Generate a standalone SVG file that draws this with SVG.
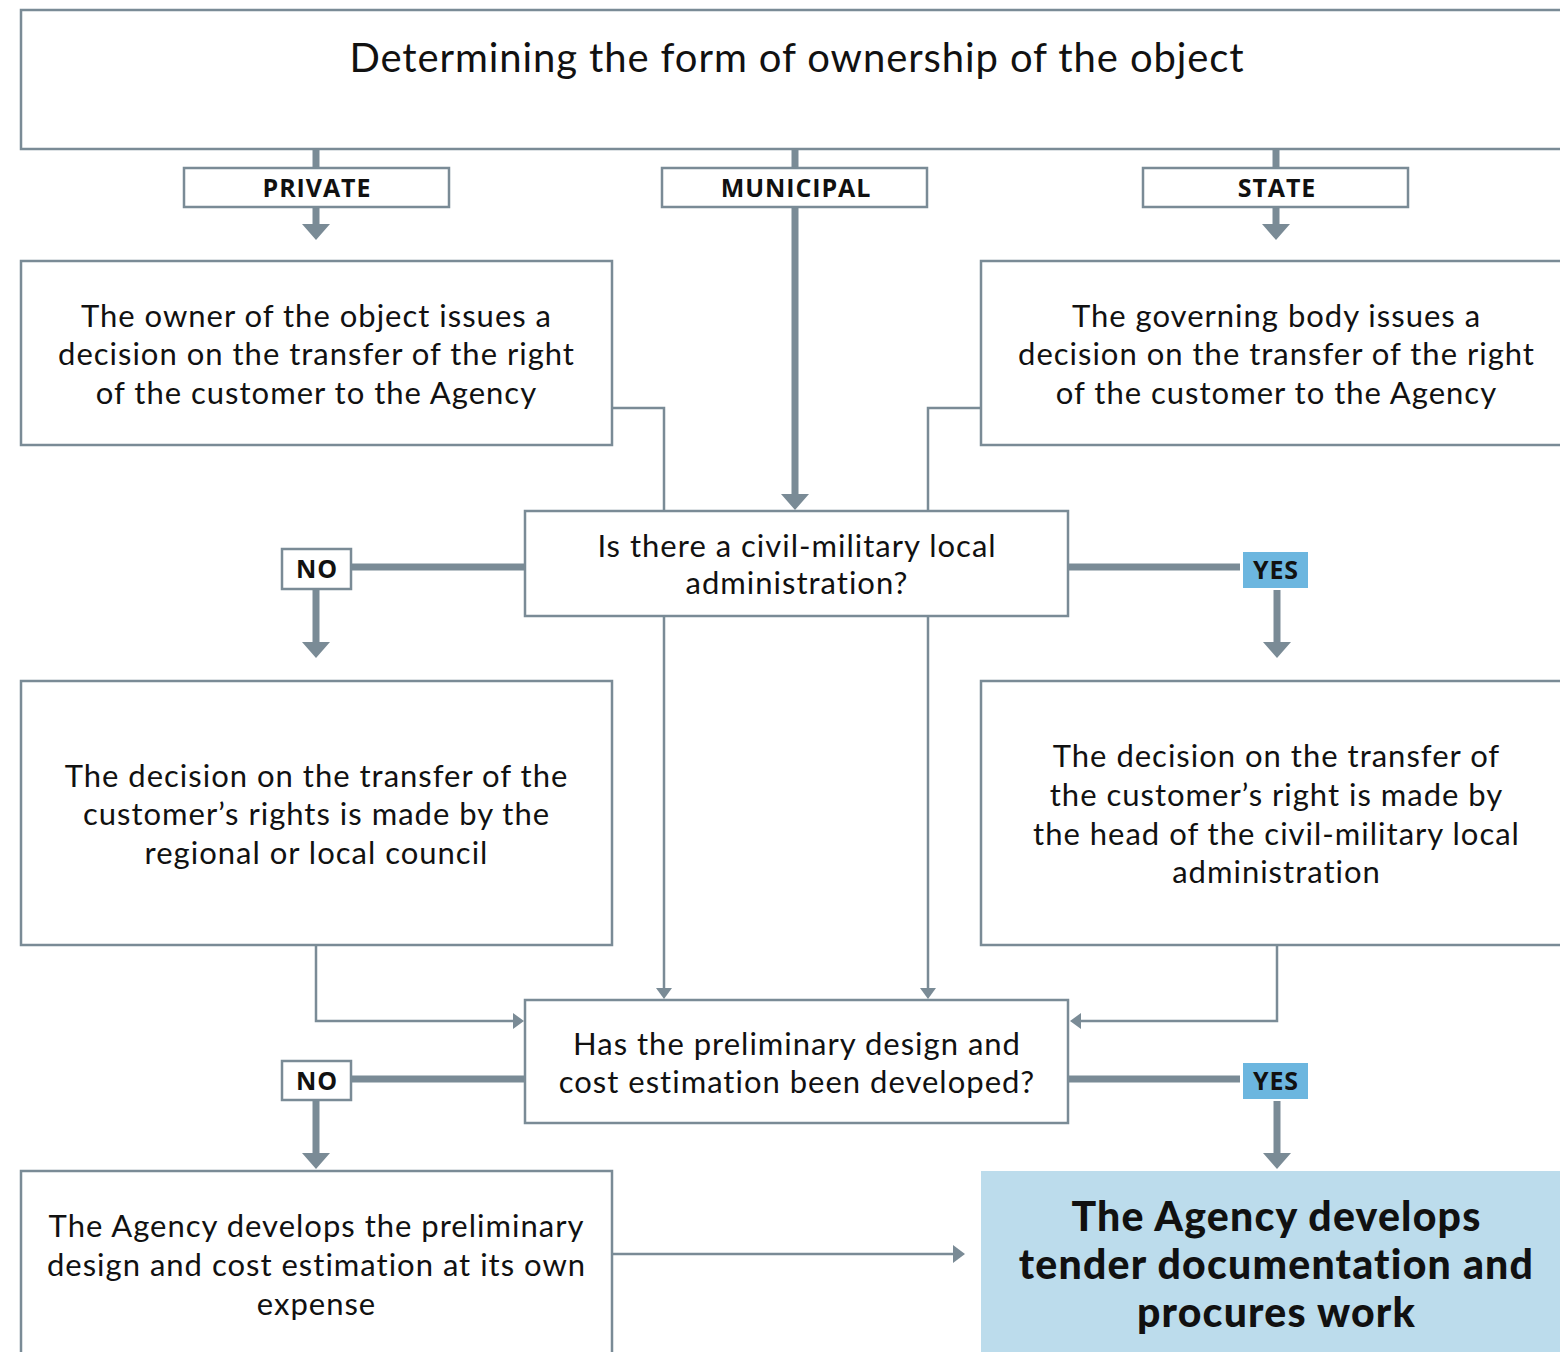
<svg xmlns="http://www.w3.org/2000/svg" width="1560" height="1352" viewBox="0 0 1560 1352">
<style>
.box{fill:#fff;stroke:#7a8b96;stroke-width:2.5}
.lbl{fill:#fff;stroke:#7a8b96;stroke-width:2.5}
.yes{fill:#6cb6df;stroke:none}
.fin{fill:#bcdcec;stroke:none}
.t{font-family:Lato,"Noto Sans",sans-serif;font-size:31px;letter-spacing:1px;fill:#111;text-anchor:middle}
.title{font-family:Lato,"Noto Sans",sans-serif;font-size:40px;letter-spacing:0.9px;fill:#111;text-anchor:middle}
.b{font-family:"Open Sans","Noto Sans",sans-serif;font-weight:bold;font-size:25px;letter-spacing:0.9px;fill:#111;text-anchor:middle}
.big{font-family:Lato,"Noto Sans",sans-serif;font-weight:900;font-size:41px;letter-spacing:1.2px;fill:#111;text-anchor:middle}
.thick{stroke:#7a8b96;stroke-width:7;fill:none}
.thin{stroke:#7a8b96;stroke-width:2.5;fill:none}
.ah{fill:#7a8b96}
</style>
<rect width="1560" height="1352" fill="#fff"/>
<g id="connectors">
<line class="thick" x1="316" y1="149" x2="316" y2="168"/>
<line class="thick" x1="316" y1="207" x2="316" y2="226"/>
<polygon class="ah" points="302,224 330,224 316,240"/>
<line class="thick" x1="795" y1="149" x2="795" y2="168"/>
<line class="thick" x1="795" y1="207" x2="795" y2="496"/>
<polygon class="ah" points="781,494 809,494 795,510"/>
<line class="thick" x1="1276" y1="149" x2="1276" y2="168"/>
<line class="thick" x1="1276" y1="207" x2="1276" y2="226"/>
<polygon class="ah" points="1262,224 1290,224 1276,240"/>
<polyline class="thin" points="612,408 664,408 664,511"/>
<polyline class="thin" points="981,408 928,408 928,511"/>
<line class="thin" x1="664" y1="616" x2="664" y2="988"/>
<polygon class="ah" points="656,988 672,988 664,999"/>
<line class="thin" x1="928" y1="616" x2="928" y2="988"/>
<polygon class="ah" points="920,988 936,988 928,999"/>
<line class="thick" x1="351" y1="567" x2="525" y2="567"/>
<line class="thick" x1="316" y1="589" x2="316" y2="643"/>
<polygon class="ah" points="302,642 330,642 316,658"/>
<line class="thick" x1="1068" y1="567" x2="1240" y2="567"/>
<line class="thick" x1="1277" y1="590" x2="1277" y2="643"/>
<polygon class="ah" points="1263,642 1291,642 1277,658"/>
<polyline class="thin" points="316,945 316,1021 513,1021"/>
<polygon class="ah" points="513,1013 513,1029 524,1021"/>
<polyline class="thin" points="1277,945 1277,1021 1081,1021"/>
<polygon class="ah" points="1081,1013 1081,1029 1070,1021"/>
<line class="thick" x1="351" y1="1079" x2="525" y2="1079"/>
<line class="thick" x1="316" y1="1100" x2="316" y2="1154"/>
<polygon class="ah" points="302,1153 330,1153 316,1169"/>
<line class="thick" x1="1068" y1="1079" x2="1240" y2="1079"/>
<line class="thick" x1="1277" y1="1101" x2="1277" y2="1154"/>
<polygon class="ah" points="1263,1153 1291,1153 1277,1169"/>
<line class="thin" x1="612" y1="1254" x2="953" y2="1254"/>
<polygon class="ah" points="953,1245 953,1263 965,1254"/>
</g>
<g id="title">
<rect class="box" x="21" y="10" width="1560" height="139"/>
<text class="title" x="797" y="72">Determining the form of ownership of the object</text>
</g>
<g id="private">
<rect class="lbl" x="184" y="168" width="265" height="39"/>
<text class="b" x="317" y="197">PRIVATE</text>
</g>
<g id="municipal">
<rect class="lbl" x="662" y="168" width="265" height="39"/>
<text class="b" x="796" y="197">MUNICIPAL</text>
</g>
<g id="state">
<rect class="lbl" x="1143" y="168" width="265" height="39"/>
<text class="b" x="1277" y="197">STATE</text>
</g>
<g id="owner">
<rect class="box" x="21" y="261" width="591" height="184"/>
<text class="t" x="316.5" y="327">The owner of the object issues a</text>
<text class="t" x="316.5" y="365">decision on the transfer of the right</text>
<text class="t" x="316.5" y="404">of the customer to the Agency</text>
</g>
<g id="governing">
<rect class="box" x="981" y="261" width="600" height="184"/>
<text class="t" x="1276.5" y="327">The governing body issues a</text>
<text class="t" x="1276.5" y="365">decision on the transfer of the right</text>
<text class="t" x="1276.5" y="404">of the customer to the Agency</text>
</g>
<g id="q1">
<rect class="box" x="525" y="511" width="543" height="105"/>
<text class="t" x="797" y="557">Is there a civil-military local</text>
<text class="t" x="797" y="594">administration?</text>
</g>
<g id="no1">
<rect class="lbl" x="282" y="549" width="69" height="40"/>
<text class="b" x="317" y="578">NO</text>
</g>
<g id="yes1">
<rect class="yes" x="1243" y="552" width="65" height="36"/>
<text class="b" x="1276" y="579">YES</text>
</g>
<g id="council">
<rect class="box" x="21" y="681" width="591" height="264"/>
<text class="t" x="316.5" y="787">The decision on the transfer of the</text>
<text class="t" x="316.5" y="825">customer’s rights is made by the</text>
<text class="t" x="316.5" y="864">regional or local council</text>
</g>
<g id="head">
<rect class="box" x="981" y="681" width="600" height="264"/>
<text class="t" x="1276.5" y="767">The decision on the transfer of</text>
<text class="t" x="1276.5" y="806">the customer’s right is made by</text>
<text class="t" x="1276.5" y="845">the head of the civil-military local</text>
<text class="t" x="1276.5" y="883">administration</text>
</g>
<g id="q2">
<rect class="box" x="525" y="1000" width="543" height="123"/>
<text class="t" x="797" y="1055">Has the preliminary design and</text>
<text class="t" x="797" y="1093">cost estimation been developed?</text>
</g>
<g id="no2">
<rect class="lbl" x="282" y="1061" width="69" height="39"/>
<text class="b" x="317" y="1090">NO</text>
</g>
<g id="yes2">
<rect class="yes" x="1243" y="1063" width="65" height="36"/>
<text class="b" x="1276" y="1090">YES</text>
</g>
<g id="agencyown">
<rect class="box" x="21" y="1171" width="591" height="200"/>
<text class="t" x="316.5" y="1237">The Agency develops the preliminary</text>
<text class="t" x="316.5" y="1276">design and cost estimation at its own</text>
<text class="t" x="316.5" y="1315">expense</text>
</g>
<g id="final">
<rect class="fin" x="981" y="1171" width="600" height="200"/>
<text class="big" x="1276.5" y="1231">The Agency develops</text>
<text class="big" x="1276.5" y="1279">tender documentation and</text>
<text class="big" x="1276.5" y="1327">procures work</text>
</g>
</svg>
